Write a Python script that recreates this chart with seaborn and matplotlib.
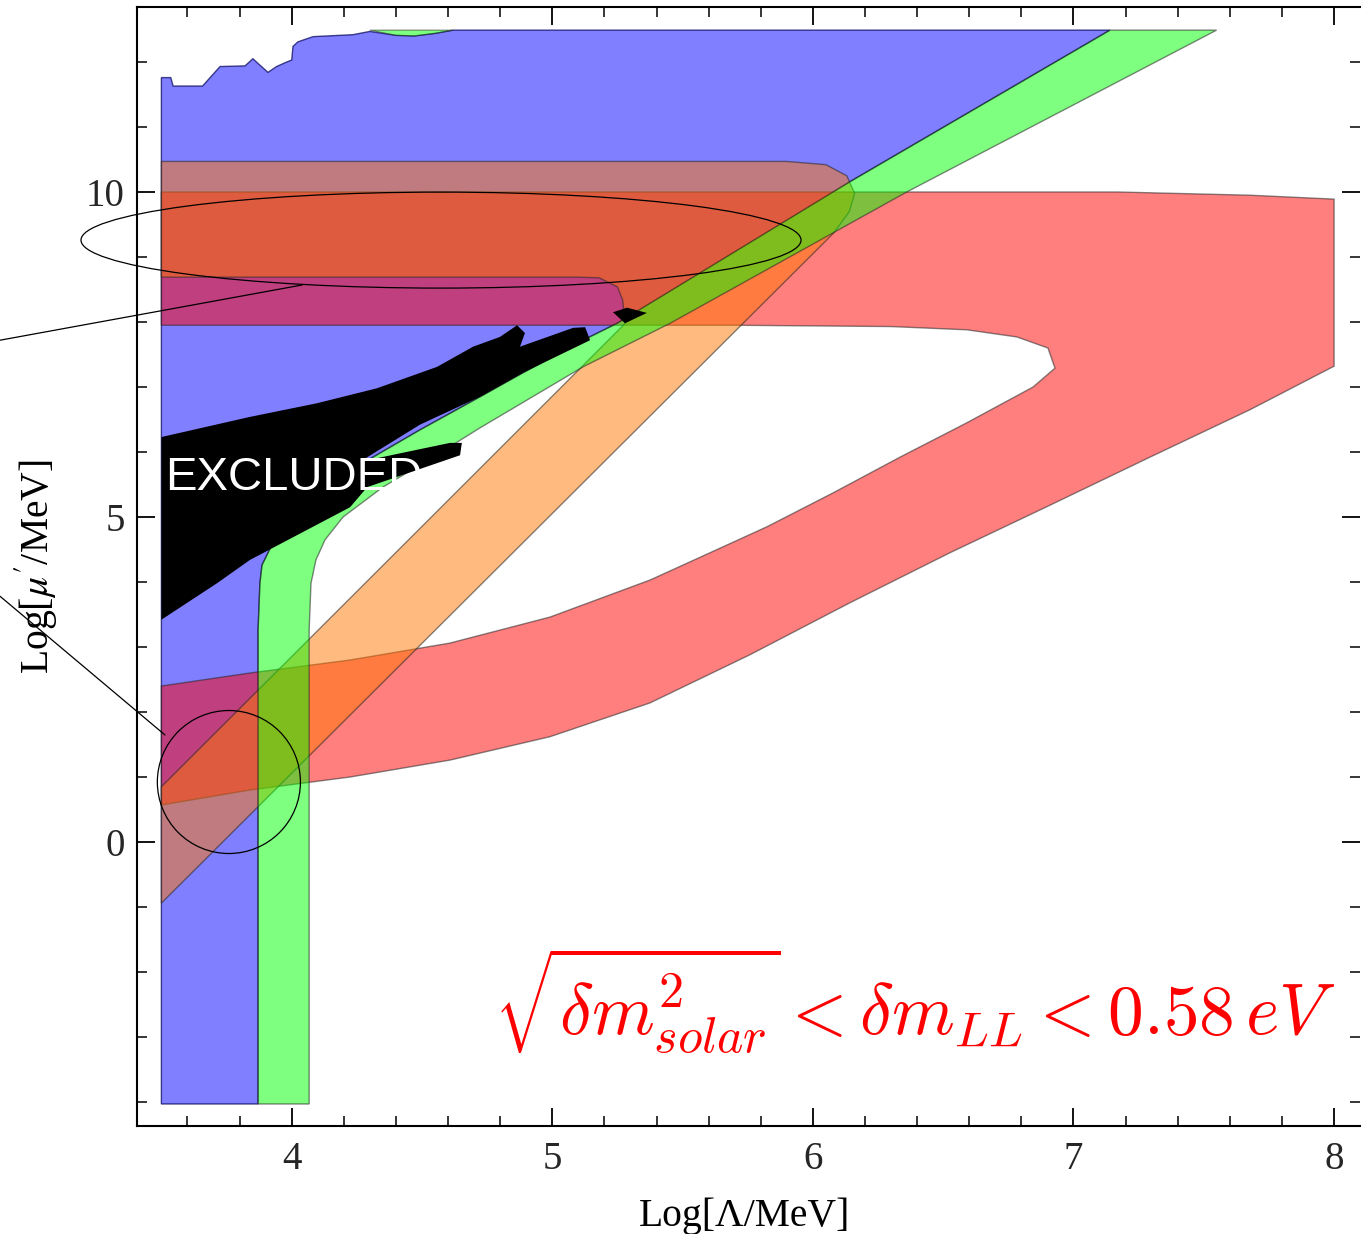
import numpy as np
import seaborn as sns
import matplotlib.pyplot as plt
from matplotlib.patches import Ellipse

## boundaries (x = Log[Lambda/MeV], y = Log[mu'/MeV])
green_left_x = [3.871, 3.871, 3.878, 3.886, 3.924, 3.993, 4.089, 4.273, 4.492, 4.723, 4.888, 5.118, 5.249, 6.143, 7.140]
green_left_y = [-4.03, 3.26, 3.98, 4.26, 4.57, 4.95, 5.34, 5.83, 6.34, 6.85, 7.22, 7.72, 7.98, 10.16, 12.49]
green_right_x = [4.067, 4.067, 4.074, 4.093, 4.128, 4.197, 4.350, 4.542, 4.722, 5.118, 5.452, 6.360, 7.549]
green_right_y = [-4.03, 3.26, 3.98, 4.34, 4.65, 5.00, 5.46, 5.92, 6.37, 7.31, 7.98, 10.00, 12.49]
green_top_x = [4.30, 4.40, 4.47, 4.55, 4.62]
green_top_y = [12.49, 12.41, 12.40, 12.44, 12.49]

blue_top_x = [3.500, 3.536, 3.545, 3.658, 3.725, 3.821, 3.851, 3.909, 3.942, 3.981, 4.000, 4.005, 4.024,
              4.082, 4.235, 4.300, 4.400, 4.470, 4.550, 4.620]
blue_top_y = [11.76, 11.76, 11.63, 11.63, 11.93, 11.94, 12.05, 11.84, 11.93, 12.00, 12.03, 12.24, 12.31,
              12.39, 12.42, 12.47, 12.41, 12.40, 12.44, 12.49]
blue_bottom = -4.03

red_top_x = [3.5, 7.17, 7.68, 8.0]
red_top_y = [10.0, 10.0, 9.95, 9.89]
red_low_x = [8.0, 7.677, 7.293, 6.909, 6.526, 6.142, 5.758, 5.375, 4.991, 4.607, 4.224, 3.840, 3.5]
red_low_y = [7.32, 6.65, 5.92, 5.18, 4.45, 3.68, 2.88, 2.14, 1.62, 1.26, 1.00, 0.80, 0.57]
red_in_x = [3.5, 3.840, 4.224, 4.607, 4.991, 5.375, 5.567, 5.824, 6.077, 6.334, 6.591, 6.845, 6.929, 6.902, 6.783, 6.591, 6.30, 5.70, 3.5]
red_in_y = [2.40, 2.60, 2.80, 3.06, 3.46, 4.03, 4.38, 4.85, 5.37, 5.92, 6.45, 7.00, 7.29, 7.60, 7.77, 7.88, 7.93, 7.95, 7.95]

orange_out_x = [3.5, 6.08, 6.14, 6.16, 6.13, 6.05, 5.90, 3.5]
orange_out_y = [-0.94, 9.37, 9.70, 9.98, 10.25, 10.42, 10.47, 10.47]
orange_in_x = [3.5, 5.10, 5.18, 5.25, 5.27, 5.28, 3.5]
orange_in_y = [8.69, 8.69, 8.68, 8.54, 8.34, 7.98, 0.85]

black_x = [3.5, 3.840, 4.097, 4.327, 4.558, 4.696, 4.799, 4.865, 4.895, 4.876, 5.080, 5.126, 5.145,
           4.888, 4.723, 4.492, 4.262, 4.607, 4.653, 4.646, 4.290, 4.224, 3.840, 3.713, 3.5]
black_y = [6.23, 6.54, 6.75, 6.98, 7.31, 7.62, 7.77, 7.95, 7.83, 7.62, 7.91, 7.92, 7.72,
           7.22, 6.85, 6.42, 5.85, 6.14, 6.14, 5.95, 5.46, 5.15, 4.34, 3.98, 3.42]
black_bit_x = [5.233, 5.287, 5.363, 5.279]
black_bit_y = [8.15, 8.22, 8.14, 7.98]

## annotation marks (ellipse, circle, pointer lines)
ring_big = (4.573, 9.26, 2.763, 1.477)
ring_small = (3.759, 0.923, 0.549, 2.20)
pointer1_x = [2.881, 4.041]
pointer1_y = [7.72, 8.57]
pointer2_x = [2.881, 3.514]
pointer2_y = [3.78, 1.646]

xmajor = [4, 5, 6, 7, 8]
ymajor = [0, 5, 10]

sns.set_theme(style='ticks')
plt.rcParams['font.family'] = ['Liberation Serif', 'DejaVu Serif']
plt.rcParams['mathtext.fontset'] = 'stix'

fig = plt.figure(figsize=(13.68, 12.34), dpi=100)
ax = fig.add_axes([137/1368, 108/1234, 1223/1368, 1119/1234])

edge = (0.15, 0.15, 0.15, 0.55)
# blue allowed region, bounded on the right by the green band
bx = [3.5] + green_left_x + blue_top_x[::-1]
by = [blue_bottom] + green_left_y + blue_top_y[::-1]
ax.fill(bx, by, facecolor=(0, 0, 1, 0.5), edgecolor=(0, 0, 0.35, 0.7), lw=1.0, zorder=1)

rx = red_top_x + red_low_x + red_in_x
ry = red_top_y + red_low_y + red_in_y
ax.fill(rx, ry, facecolor=(1, 0, 0, 0.5), edgecolor=edge, lw=1.0, zorder=2)

ox = orange_out_x + orange_in_x
oy = orange_out_y + orange_in_y
ax.fill(ox, oy, facecolor=(1, 0.47, 0.0, 0.5), edgecolor=edge, lw=1.0, zorder=3)

gx = green_left_x + green_right_x[::-1]
gy = green_left_y + green_right_y[::-1]
ax.fill(gx, gy, facecolor=(0, 1, 0, 0.5), edgecolor=edge, lw=1.0, zorder=4)
ax.fill(green_top_x, green_top_y, facecolor=(0, 1, 0, 0.5), edgecolor=edge, lw=0.8, zorder=4)

ax.fill(black_x, black_y, facecolor='black', edgecolor='none', zorder=5)
ax.fill(black_bit_x, black_bit_y, facecolor='black', edgecolor='none', zorder=5)

for cx, cy, w, h in [ring_big, ring_small]:
    ax.add_patch(Ellipse((cx, cy), w, h, fill=False, edgecolor='black', lw=0.9, zorder=6, clip_on=False))
sns.lineplot(x=pointer1_x, y=pointer1_y, sort=False, color='black', lw=0.9, ax=ax, zorder=6)
sns.lineplot(x=pointer2_x, y=pointer2_y, sort=False, color='black', lw=0.9, ax=ax, zorder=6)
for ln in ax.lines:
    ln.set_clip_on(False)

ax.text(3.514, 5.415, 'EXCLUDED', color='white', fontsize=34, family=['Liberation Sans', 'DejaVu Sans'],
        va='baseline', ha='left', zorder=7)
ax.text(8.004, -2.97, r'$\sqrt{\delta m^2_{solar}} < \delta m_{LL} < 0.58\,eV$', color='red',
        fontsize=51.5, math_fontfamily='cm', ha='right', va='baseline', zorder=7)

ax.set_xlim(3.4064, 8.0994)
ax.set_ylim(-4.369, 12.846)
ax.set_xticks(xmajor)
ax.set_yticks(ymajor)
ax.set_xticks(np.arange(3.6, 8.05, 0.2), minor=True)
ax.set_yticks(np.arange(-4, 13, 1), minor=True)
ax.tick_params(which='both', direction='in', top=True, right=True, color='black')
ax.tick_params(which='major', length=13, width=1.3, labelsize=28, pad=11)
ax.tick_params(which='minor', length=7, width=1.1)
ax.tick_params(axis='y', which='major', pad=9)
for s in ['left', 'bottom', 'top']:
    ax.spines[s].set_linewidth(1.5)
    ax.spines[s].set_color('black')
ax.spines['right'].set_visible(False)
ax.grid(False)
ax.set_facecolor('white')

ax.set_xlabel('Log[Λ/MeV]', fontsize=28.5, color='black')
ax.set_ylabel("Log[$\\mu'$/MeV]", fontsize=28.5, color='black')
ax.xaxis.set_label_coords(0.497, -0.064)
ax.yaxis.set_label_coords(-0.064, 0.5)

plt.savefig('out.png', dpi=100)
